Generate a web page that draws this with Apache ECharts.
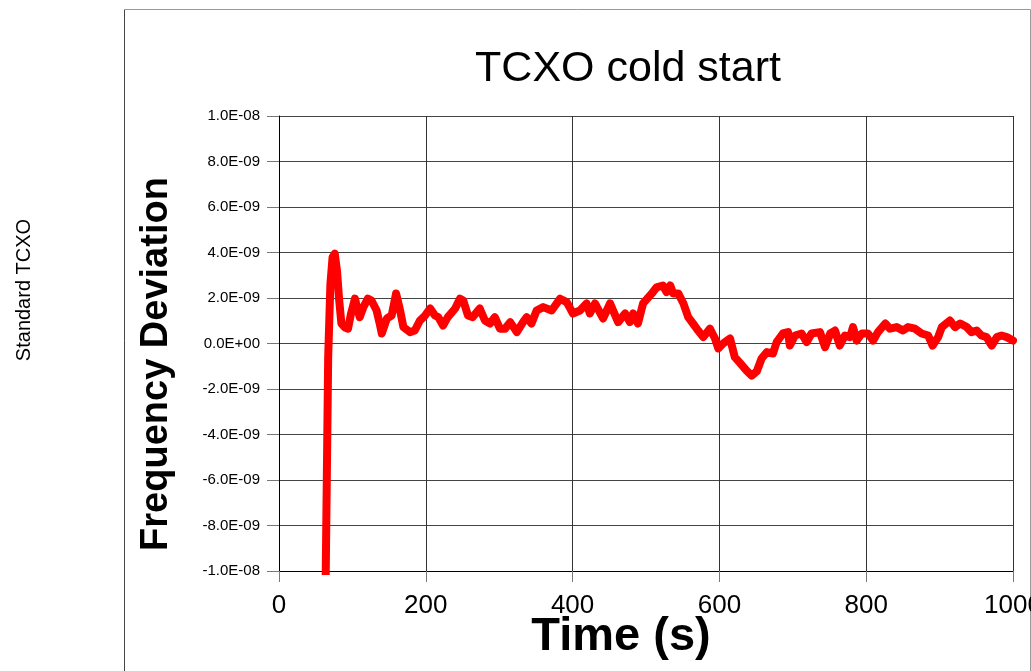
<!DOCTYPE html>
<html>
<head>
<meta charset="utf-8">
<script src="https://cdn.jsdelivr.net/npm/echarts@6/dist/echarts.min.js"></script>
<style>
html,body{margin:0;padding:0;background:#fff;}
#chart{width:1031px;height:671px;}
</style>
</head>
<body>
<div id="chart"></div>
<script>
// Time in seconds
const timeS = [63,67,70,73,76,79,82,85,90,94,98,103.5,107,110,115,121,126,133,137,140,147,153.5,159.5,165,169.5,178.5,185,192,199,206,212.5,217,223.5,230,240,246.5,251,257.5,264,273.5,280.5,287.5,294,301,308,315,324,332.5,337.5,344,351,360,371.5,383,392,400.5,410,419,423.5,430.5,441.5,451,462,471.5,478,482.5,489,496,508,514.5,523,528,533,537,544,551,557.5,564,571,578,587,594,598.5,605,614.5,621,628,637,644,651,657.5,664.5,673,678,686.5,693.5,696,703,712,719,725.5,737,744,751,757.5,764,771,778,782,787,794,802.5,809.5,816,826,832.5,841.5,850,857,866.5,875.5,884.5,890.5,898,903,914,921,928,937,943.5,950.5,957,964,971,978,984.5,991.5,1000];
// Frequency deviation, in units of 1E-09
const deviationE9 = [-12,-0.6,2.6,3.8,3.95,3.2,1.9,0.88,0.7,0.65,1.3,1.97,1.5,1.16,1.6,1.97,1.89,1.45,0.9,0.44,1.1,1.23,2.2,1.45,0.72,0.5,0.57,1.01,1.23,1.54,1.23,1.16,0.79,1.16,1.54,1.97,1.89,1.23,1.16,1.54,1.01,0.88,1.16,0.65,0.65,0.94,0.5,0.94,1.16,0.88,1.45,1.6,1.45,1.97,1.82,1.32,1.45,1.76,1.32,1.76,1.1,1.76,0.94,1.32,0.94,1.32,0.88,1.76,2.2,2.47,2.55,2.26,2.55,2.2,2.2,1.76,1.16,0.88,0.57,0.28,0.65,0.22,-0.22,0,0.22,-0.6,-0.85,-1.19,-1.41,-1.22,-0.66,-0.38,-0.44,0.06,0.44,0.5,-0.09,0.35,0.44,0.06,0.44,0.5,-0.16,0.44,0.57,-0.09,0.35,0.28,0.72,0.13,0.44,0.44,0.13,0.5,0.88,0.65,0.72,0.57,0.72,0.65,0.44,0.35,-0.09,0.28,0.72,1.01,0.72,0.88,0.72,0.5,0.57,0.35,0.28,-0.09,0.28,0.35,0.28,0.13];
const yTickLabels = ['-1.0E-08','-8.0E-09','-6.0E-09','-4.0E-09','-2.0E-09','0.0E+00','2.0E-09','4.0E-09','6.0E-09','8.0E-09','1.0E-08'];
const xTickLabels = ['0','200','400','600','800','1000'];

const FONT = 'Liberation Sans, Arial, sans-serif';
const chart = echarts.init(document.getElementById('chart'), null, {renderer:'canvas'});
const seriesData = timeS.map((t,i)=>[t, deviationE9[i]]);
const yMin = -10, yStep = 2, xMin = 0, xStep = 200;

chart.setOption({
  animation: false,
  backgroundColor: '#ffffff',
  grid: {left: 279, right: 18, top: 116, bottom: 100, containLabel: false, outerBoundsMode: 'none'},
  xAxis: {
    type: 'value', min: xMin, max: 1000, interval: xStep,
    axisLine: {show: true, onZero: false, lineStyle: {color: '#000', width: 1}},
    axisTick: {show: true, length: 11, lineStyle: {color: '#777'}},
    axisLabel: {fontFamily: FONT, fontSize: 26, color: '#000', margin: 22, showMaxLabel: true, hideOverlap: false,
      formatter: function(v){ return xTickLabels[Math.round((v - xMin)/xStep)]; }},
    splitLine: {show: true, lineStyle: {color: '#333', width: 1}}
  },
  yAxis: {
    type: 'value', min: yMin, max: 10, interval: yStep,
    axisLine: {show: true, onZero: false, lineStyle: {color: '#000', width: 1}},
    axisTick: {show: true, length: 12, lineStyle: {color: '#777'}},
    axisLabel: {fontFamily: FONT, fontSize: 15, color: '#000', margin: 19, padding: [3, 0, 0, 0],
      formatter: function(v){ return yTickLabels[Math.round((v - yMin)/yStep)]; }},
    splitLine: {show: true, lineStyle: {color: '#444', width: 1}}
  },
  series: [{
    type: 'line', data: seriesData, showSymbol: false, smooth: false, clip: true,
    lineStyle: {color: '#ff0000', width: 8, cap: 'round', join: 'round'}
  }],
  graphic: [
    {type: 'line', shape: {x1: 124.5, y1: 9.5, x2: 124.5, y2: 671}, style: {stroke: '#444', lineWidth: 1}, silent: true},
    {type: 'line', shape: {x1: 124.5, y1: 9.5, x2: 1030.5, y2: 9.5}, style: {stroke: '#999', lineWidth: 1}, silent: true},
    {type: 'line', shape: {x1: 1030.5, y1: 9.5, x2: 1030.5, y2: 671}, style: {stroke: '#999', lineWidth: 1}, silent: true},
    {type: 'text', x: 628, y: 69, style: {text: 'TCXO cold start', font: '43px ' + FONT, fill: '#000', textAlign: 'center', textVerticalAlign: 'middle'}},
    {type: 'text', x: 621, y: 637, style: {text: 'Time (s)', font: 'bold 47px ' + FONT, fill: '#000', textAlign: 'center', textVerticalAlign: 'middle'}},
    {type: 'text', x: 157, y: 364, rotation: Math.PI/2, style: {text: 'Frequency Deviation', font: 'bold 38px ' + FONT, fill: '#000', textAlign: 'center', textVerticalAlign: 'middle'}},
    {type: 'text', x: 24, y: 290, rotation: Math.PI/2, style: {text: 'Standard TCXO', font: '20px ' + FONT, fill: '#000', textAlign: 'center', textVerticalAlign: 'middle'}}
  ]
});
</script>
</body>
</html>
